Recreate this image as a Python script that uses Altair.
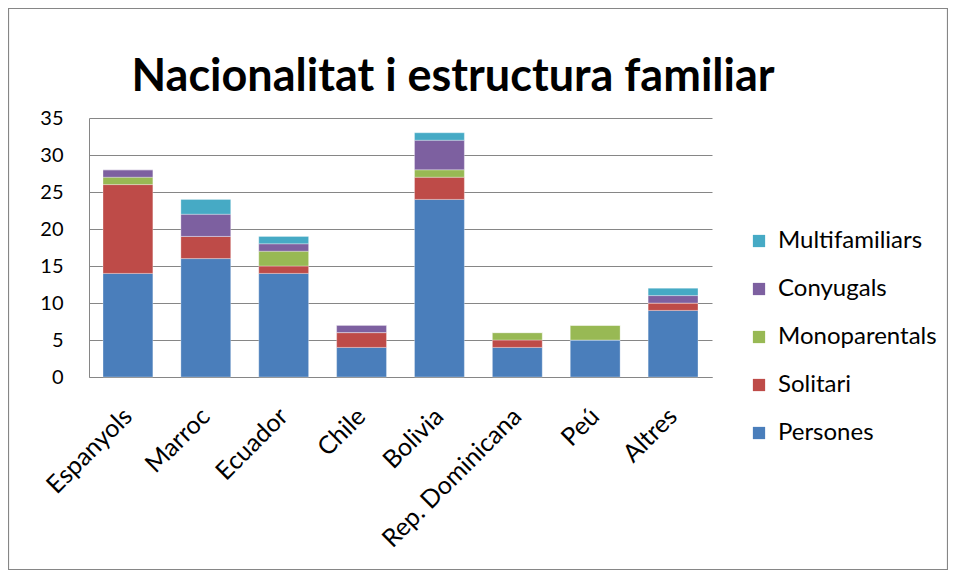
import altair as alt
import pandas as pd

countries = ["Espanyols", "Marroc", "Ecuador", "Chile", "Bolivia", "Rep. Dominicana", "Peú", "Altres"]
series = ["Persones", "Solitari", "Monoparentals", "Conyugals", "Multifamiliars"]
persones = [14, 16, 14, 4, 24, 4, 5, 9]
solitari = [12, 3, 1, 2, 3, 1, 0, 1]
monoparentals = [1, 0, 2, 0, 1, 1, 2, 0]
conyugals = [1, 3, 1, 1, 4, 0, 0, 1]
multifamiliars = [0, 2, 1, 0, 1, 0, 0, 1]
colors = {"Persones": "#4A7EBB", "Solitari": "#BE4B48", "Monoparentals": "#98B954",
          "Conyugals": "#7D60A0", "Multifamiliars": "#46AAC5"}
title_text = "Nacionalitat i estructura familiar"

rows = []
for si, (s, vals) in enumerate(zip(series, [persones, solitari, monoparentals, conyugals, multifamiliars])):
    for c, v in zip(countries, vals):
        rows.append({"pais": c, "serie": s, "valor": v, "ord": si})
df = pd.DataFrame(rows)

legend_order = series[::-1]
FONT = "Lato"

W, H = 623, 259
PL, PT = 81, 110
TOTW, TOTH = 940, 562

bars = alt.Chart(df).mark_bar(stroke="white", strokeWidth=0.5, strokeOpacity=0.6).encode(
    x=alt.X("pais:N", sort=countries, title=None,
            scale=alt.Scale(paddingInner=0.36, paddingOuter=0.18),
            axis=alt.Axis(labelAngle=-45, labelAlign="right", labelBaseline="middle",
                          labelFontSize=25, labelFont=FONT, labelColor="black", labelLimit=400,
                          ticks=False, domainColor="#868686", labelPadding=35)),
    y=alt.Y("valor:Q", title=None, stack="zero",
            scale=alt.Scale(domain=[0, 35], nice=False),
            axis=alt.Axis(values=[0, 5, 10, 15, 20, 25, 30, 35], labelFontSize=20, labelFont=FONT,
                          labelColor="black", ticks=False, domainColor="#868686",
                          gridColor="#868686", labelPadding=26)),
    color=alt.Color("serie:N", scale=alt.Scale(domain=legend_order, range=[colors[s] for s in legend_order]),
                    legend=alt.Legend(title=None, orient="none", legendX=658, legendY=111,
                                      symbolType="square", symbolSize=150, symbolStrokeWidth=0,
                                      labelFontSize=24, labelFont=FONT, labelColor="black",
                                      labelLimit=300, rowPadding=24, labelOffset=7)),
    order=alt.Order("ord:Q", sort="ascending"),
)

title = alt.Chart(pd.DataFrame({"t": [title_text]})).mark_text(
    fontSize=45, font=FONT, fontWeight="bold", color="black", align="center", baseline="alphabetic"
).encode(text="t:N", x=alt.value(364), y=alt.value(-27))

frame = alt.Chart(pd.DataFrame({"a": [0]})).mark_rect(fill=None, stroke="#868686", strokeWidth=1.2).encode(
    x=alt.value(-PL + 0.5), x2=alt.value(TOTW - PL - 0.5),
    y=alt.value(-PT + 0.5), y2=alt.value(TOTH - PT - 0.5),
)

chart = alt.layer(bars, title, frame).properties(
    width=W, height=H,
    padding={"left": PL, "top": PT, "right": TOTW - PL - W, "bottom": TOTH - PT - H},
    autosize=alt.AutoSizeParams(type="none"),
).configure_view(stroke=None).configure_axisX(grid=False)

chart.save("out.html", embed_options={"renderer": "svg", "actions": False})
